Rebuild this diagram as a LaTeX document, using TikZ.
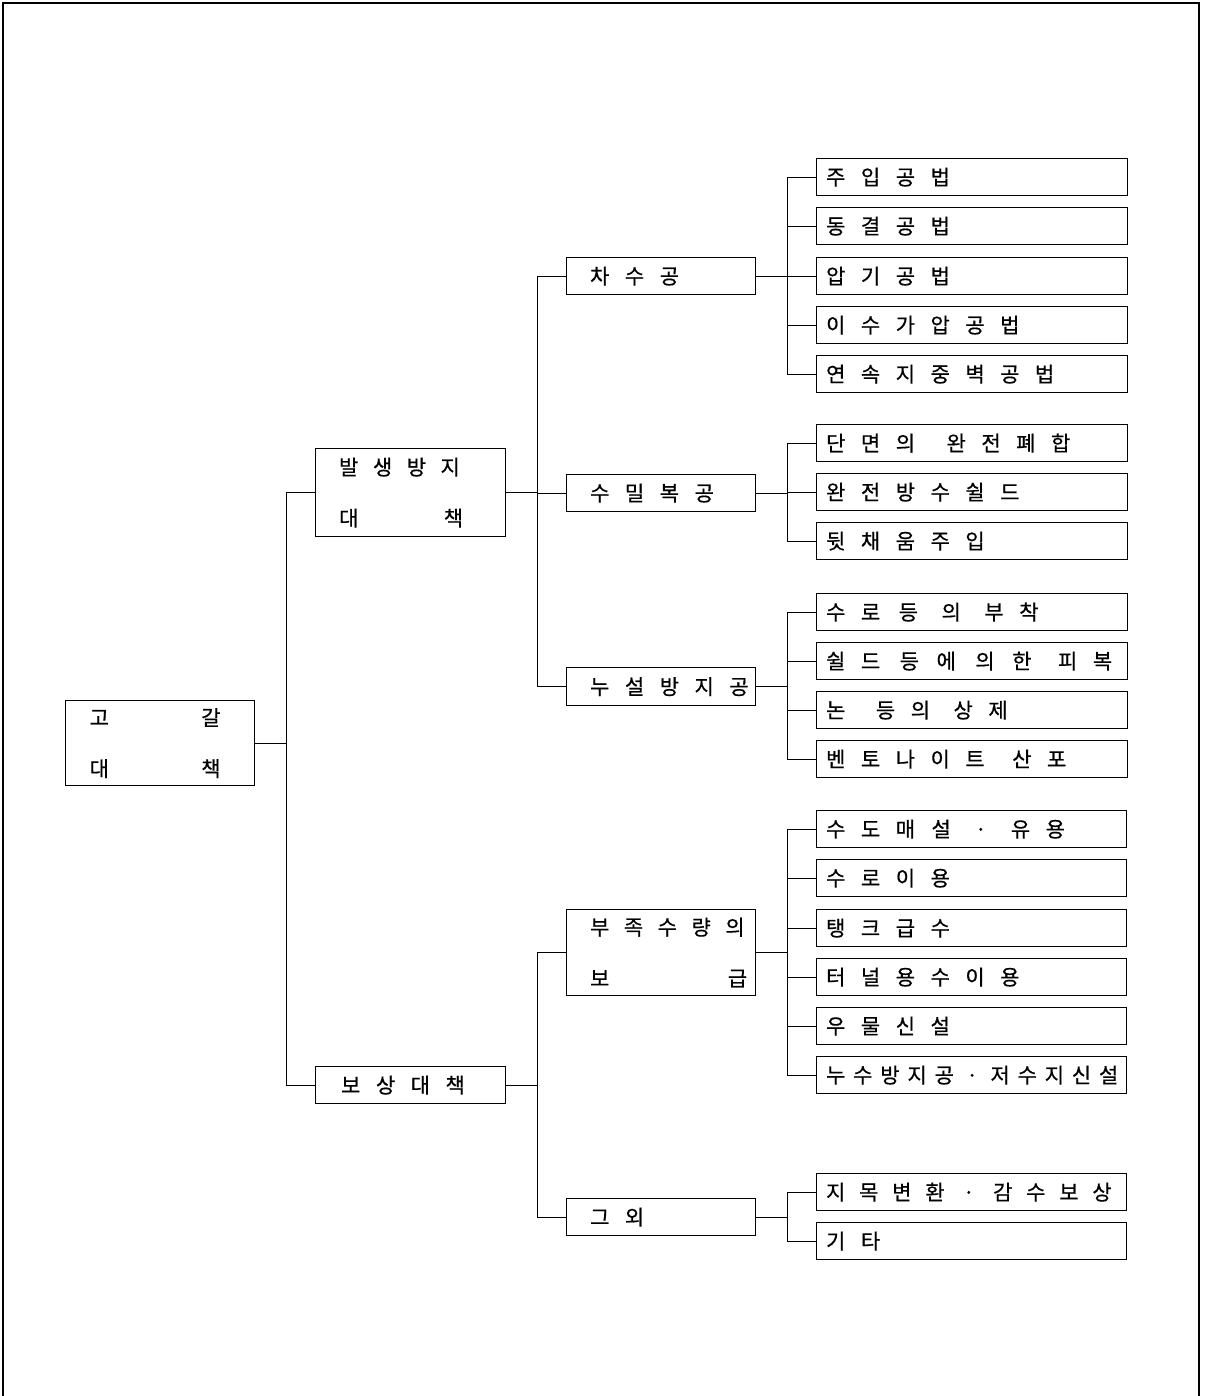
\documentclass[tikz,border=0pt]{standalone}
\usepackage{fontspec}
\newfontfamily\kr[FakeBold=0.6]{Noto Sans CJK KR}
\newcommand\gp[1]{\hspace{#1pt}}
\newcommand\dt{\makebox[21pt]{·}}
\begin{document}
\begin{tikzpicture}[x=1pt,y=-1pt,
  box/.style={draw, line width=1.2pt, rectangle, anchor=north west,
    inner xsep=0pt, inner ysep=0pt, align=left,
    font={\kr\fontsize{21}{51}\selectfont},
    execute at begin node={\spaceskip=15.5pt\relax}},
  leaf/.style={box, text width=311pt, minimum height=37pt},
  mid/.style={box, text width=189pt, minimum height=37pt},
  conn/.style={line width=1pt}]
\useasboundingbox (0,0) rectangle (1205,1396);
% frame
\draw[line width=1.5pt] (3,1396) -- (3,3) -- (1199,3) -- (1199,1396);

% level 0
\node[box, text width=189pt, minimum height=85pt] (root) at (65,700)
  {\hspace*{24pt}고\hfill 갈\hspace*{34pt}\null\\\hspace*{24pt}대\hfill 책\hspace*{34pt}\null};

% level 1
\node[box, text width=190pt, minimum height=88pt] (bal) at (315,448)
  {\hspace*{23.5pt}\spaceskip=14.5pt\relax 발 생 방 지\\\hspace*{23.5pt}대\hfill 책\hspace*{42.5pt}\null};
\node[box, text width=190pt, minimum height=37pt] (bo) at (315,1066)
  {\hspace*{25.5pt}보 상 대 책};

% level 2
\node[mid] (cha) at (566,257) {\hspace*{23.5pt}차 수 공};
\node[mid] (sumil) at (566,474) {\hspace*{23.5pt}수 밀 복 공};
\node[mid, minimum height=38pt] (nu) at (566,667) {\hspace*{23.5pt}누 설 방 지 공};
\node[box, text width=189pt, minimum height=86pt] (buj) at (566,909)
  {\hspace*{23.5pt}\spaceskip=14.5pt\relax 부 족 수 량 의\\\hspace*{23.5pt}보\hfill 급\hspace*{8.5pt}\null};
\node[mid] (geu) at (566,1198) {\hspace*{23.5pt}그 외};

% leaves
\node[leaf] (a1) at (816,158) {\hspace*{9.5pt}주 입 공 법};
\node[leaf] (a2) at (816,207) {\hspace*{9.5pt}동 결 공 법};
\node[leaf] (a3) at (816,257) {\hspace*{9.5pt}압 기 공 법};
\node[leaf] (a4) at (816,306) {\hspace*{9.5pt}이 수 가 압 공 법};
\node[leaf] (a5) at (816,355) {\hspace*{9.5pt}연 속 지 중 벽 공 법};

\node[leaf] (b1) at (816,424) {\hspace*{9.5pt}단 면 의 \gp{16}완 전 폐 합};
\node[leaf] (b2) at (816,473) {\hspace*{9.5pt}완 전 방 수 쉴 드};
\node[leaf] (b3) at (816,522) {\hspace*{9.5pt}뒷 채 움 주 입};

\node[leaf] (c1) at (816,593) {\hspace*{9.5pt}수 로 \gp{3}등 \gp{8}의 \gp{8}부 착};
\node[leaf] (c2) at (816,642) {\hspace*{9.5pt}쉴 드 \gp{4}등 \gp{2}에 \gp{4}의 \gp{2}한 \gp{11}피 복};
\node[leaf] (c3) at (816,691) {\hspace*{9.5pt}논 \gp{15}등 \gp{0}의 \gp{8}상 제};
\node[leaf] (c4) at (816,740) {\hspace*{9.5pt}벤 토 나 이 트 \gp{12}산 포};

\node[leaf, text width=310pt] (d1) at (816,810) {\hspace*{9.5pt}수 도 매 \gp{1}설 \gp{4}\dt{} \gp{4}유 용};
\node[leaf, text width=310pt] (d2) at (816,859) {\hspace*{9.5pt}수 로 이 용};
\node[leaf, text width=310pt] (d3) at (816,909) {\hspace*{9.5pt}탱 크 급 수};
\node[leaf, text width=310pt] (d4) at (816,958) {\hspace*{9.5pt}터 널 용 수 이 용};
\node[leaf, text width=310pt] (d5) at (816,1007) {\hspace*{9.5pt}우 물 신 설};
\node[leaf, text width=310pt] (d6) at (816,1056) {\hspace*{9.5pt}\spaceskip=7.8pt\relax 누 수 방 지 공 \dt{} 저 수 지 신 설};

\node[leaf, text width=310pt] (e1) at (816,1173) {\hspace*{9.5pt}\spaceskip=13.75pt\relax 지 목 변 환 \dt{} 감 수 보 상};
\node[leaf, text width=310pt] (e2) at (816,1222) {\hspace*{9.5pt}기 타};

% connectors
\foreach \c in {bal,bo} \draw[conn] (root.east) -- ++(31.5,0) |- (\c.west);
\foreach \c in {cha,sumil,nu} \draw[conn] (bal.east) -- ++(31,0) |- (\c.west);
\foreach \c in {buj,geu} \draw[conn] (bo.east) -- ++(31,0) |- (\c.west);
\foreach \c in {a1,a2,a3,a4,a5} \draw[conn] (cha.east) -- ++(31,0) |- (\c.west);
\foreach \c in {b1,b2,b3} \draw[conn] (sumil.east) -- ++(31,0) |- (\c.west);
\foreach \c in {c1,c2,c3,c4} \draw[conn] (nu.east) -- ++(31,0) |- (\c.west);
\foreach \c in {d1,d2,d3,d4,d5,d6} \draw[conn] (buj.east) -- ++(31,0) |- (\c.west);
\foreach \c in {e1,e2} \draw[conn] (geu.east) -- ++(31,0) |- (\c.west);
\end{tikzpicture}
\end{document}
